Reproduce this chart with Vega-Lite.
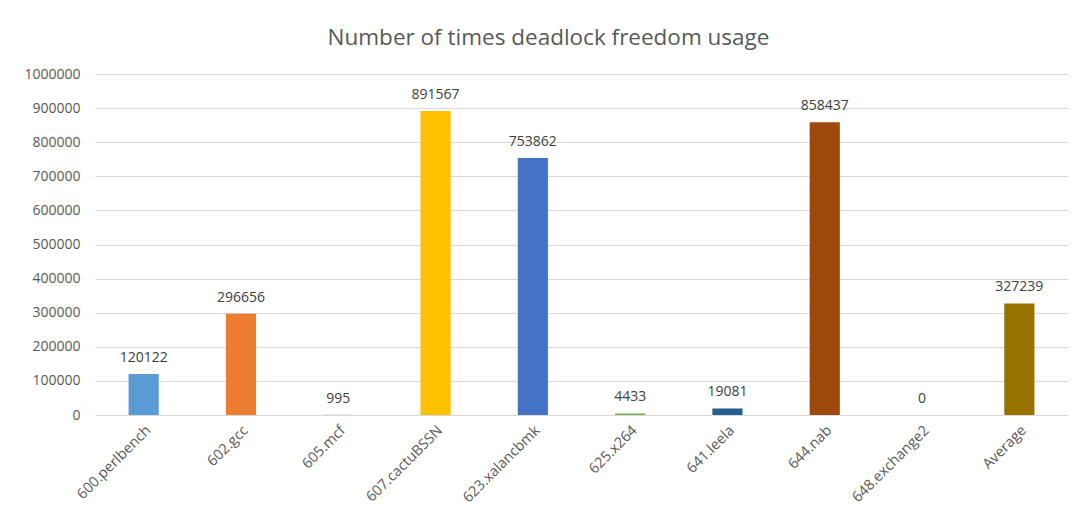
{
  "$schema": "https://vega.github.io/schema/vega-lite/v6.json",
  "autosize": {"type": "none"},
  "padding": {"left": 95, "top": 74, "right": 10, "bottom": 108},
  "width": 973,
  "height": 341,
  "background": "white",
  "title": {
    "text": "Number of times deadlock freedom usage",
    "font": "Open Sans",
    "fontSize": 22.5,
    "fontWeight": "normal",
    "color": "#595959",
    "anchor": "middle",
    "dx": -33,
    "offset": 18
  },
  "data": {
    "values": [
      {"benchmark": "600.perlbench", "value": 120122, "color": "#5B9BD5"},
      {"benchmark": "602.gcc", "value": 296656, "color": "#ED7D31"},
      {"benchmark": "605.mcf", "value": 995, "color": "#A5A5A5"},
      {"benchmark": "607.cactuBSSN", "value": 891567, "color": "#FFC000"},
      {"benchmark": "623.xalancbmk", "value": 753862, "color": "#4472C4"},
      {"benchmark": "625.x264", "value": 4433, "color": "#70AD47"},
      {"benchmark": "641.leela", "value": 19081, "color": "#255E91"},
      {"benchmark": "644.nab", "value": 858437, "color": "#9E480E"},
      {"benchmark": "648.exchange2", "value": 0, "color": "#636363"},
      {"benchmark": "Average", "value": 327239, "color": "#997300"}
    ]
  },
  "encoding": {
    "x": {
      "field": "benchmark",
      "type": "nominal",
      "sort": null,
      "scale": {"paddingInner": 0.69, "paddingOuter": 0.345},
      "axis": {
        "title": null,
        "labelAngle": -45,
        "labelFont": "Open Sans",
        "labelFontSize": 14.5,
        "labelColor": "#595959",
        "domain": false,
        "ticks": false,
        "labelPadding": 8
      }
    },
    "y": {
      "field": "value",
      "type": "quantitative",
      "scale": {"domain": [0, 1000000], "nice": false},
      "axis": {
        "title": null,
        "values": [0, 100000, 200000, 300000, 400000, 500000, 600000, 700000, 800000, 900000, 1000000],
        "format": "d",
        "labelFont": "Open Sans",
        "labelFontSize": 14,
        "labelColor": "#595959",
        "domain": false,
        "ticks": false,
        "labelPadding": 15,
        "gridColor": "#D9D9D9",
        "gridWidth": 1
      }
    }
  },
  "layer": [
    {
      "mark": {"type": "bar"},
      "encoding": {
        "color": {"field": "color", "type": "nominal", "scale": null}
      }
    },
    {
      "mark": {
        "type": "text",
        "baseline": "bottom",
        "dy": -9,
        "font": "Open Sans",
        "fontSize": 14,
        "color": "#404040"
      },
      "encoding": {
        "text": {"field": "value", "type": "quantitative", "format": "d"}
      }
    }
  ],
  "config": {"view": {"stroke": null}}
}
